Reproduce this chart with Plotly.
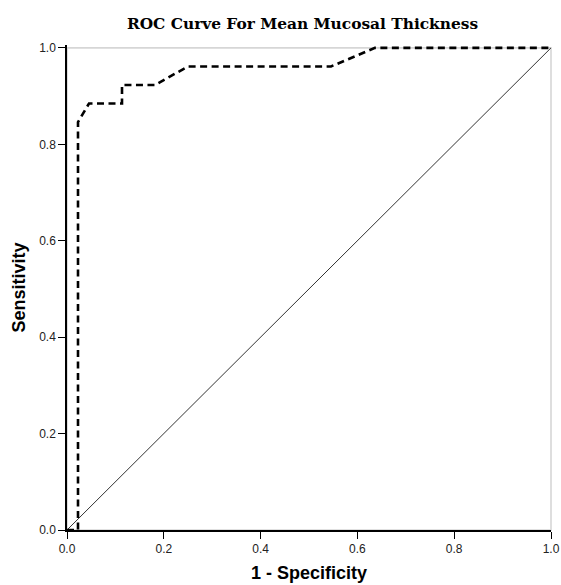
import plotly.graph_objects as go

# ROC curve data (1 - specificity, sensitivity)
fpr = [0.0, 1/44, 1/44, 2/44, 5/44, 5/44, 8/44, 11/44, 24/44, 28/44, 1.0]
tpr = [0.0, 0.0, 22/26, 23/26, 23/26, 24/26, 24/26, 25/26, 25/26, 1.0, 1.0]
ref_x = [0.0, 1.0]
ref_y = [0.0, 1.0]
tick_vals = [0.0, 0.2, 0.4, 0.6, 0.8, 1.0]
tick_text = ["0.0", "0.2", "0.4", "0.6", "0.8", "1.0"]

W, H = 561, 585
Y_MAX = 1.006

fig = go.Figure()
fig.add_trace(go.Scatter(x=ref_x, y=ref_y, mode="lines",
                         line=dict(color="#333333", width=1), showlegend=False, hoverinfo="skip"))
fig.add_trace(go.Scatter(x=fpr, y=tpr, mode="lines",
                         line=dict(color="black", width=2.6, dash="7px,4.5px"), showlegend=False))

# gray frame (top/right) in paper coords so it is not clipped by the plot area
fig.add_shape(type="rect", xref="paper", yref="paper", x0=0, y0=0, x1=1, y1=1 / Y_MAX,
              fillcolor="rgba(0,0,0,0)",
              line=dict(color="#7a7a7a", width=1.6), layer="below")

tickfont = dict(family="Liberation Sans, Arial", size=12, color="#222222")
axis_common = dict(tickvals=tick_vals, ticktext=tick_text, automargin=False,
                   ticks="outside", ticklen=7, tickwidth=1, tickcolor="black",
                   showgrid=False, zeroline=False, showline=True, linecolor="black", linewidth=1.5,
                   mirror=False, tickfont=tickfont)

fig.update_layout(
    template="simple_white",
    width=W, height=H,
    margin=dict(l=67, r=10, t=45, b=55, autoexpand=False),
    plot_bgcolor="white", paper_bgcolor="white",
    title=dict(text="<b>ROC Curve For Mean Mucosal Thickness</b>", x=302.5 / W, xanchor="center",
               y=1 - 24 / H, yanchor="middle",
               font=dict(family="DejaVu Serif", size=15.4, color="black")),
    xaxis=dict(**axis_common, range=[0, 1],
               title=dict(text="<b>1 - Specificity</b>", standoff=11,
                          font=dict(family="Liberation Sans, Arial", size=18, color="black"))),
    yaxis=dict(**axis_common, range=[0, Y_MAX],
               title=dict(text="<b>Sensitivity</b>", standoff=9,
                          font=dict(family="Liberation Sans, Arial", size=18, color="black"))),
)

fig.write_html("out.html", config={"displayModeBar": False},
               post_script="document.body.style.margin='0px';document.body.style.overflow='hidden';")
